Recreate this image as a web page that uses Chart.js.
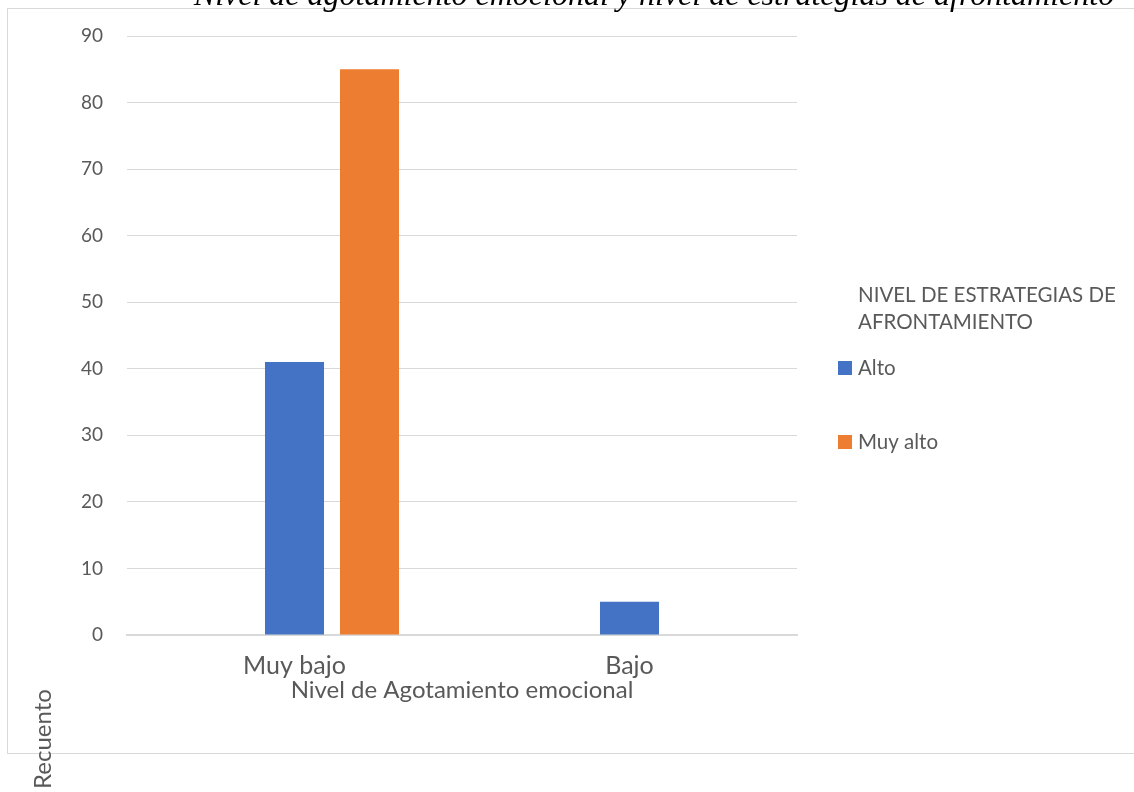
<!DOCTYPE html>
<html>
<head>
<meta charset="utf-8">
<script src="https://cdn.jsdelivr.net/npm/chart.js@4/dist/chart.umd.min.js"></script>
<style>
  html, body { margin: 0; padding: 0; background: #fff; }
  #wrap { width: 1134px; height: 792px; }
</style>
</head>
<body>
<div id="wrap"><canvas id="chart" width="1134" height="792"></canvas></div>
<script>
const categories = ["Muy bajo", "Bajo"];
const seriesNames = ["", "Alto", "Muy alto"];
const spacerCounts = [null, null];
const altoCounts = [41, 5];
const muyAltoCounts = [85, null];
const yTicks = [0, 10, 20, 30, 40, 50, 60, 70, 80, 90];

const chartTitle = "Nivel de agotamiento emocional y nivel de estrategias de afrontamiento";
const xTitle = "Nivel de Agotamiento emocional";
const yTitle = "Recuento";
const legendTitle = ["NIVEL DE ESTRATEGIAS DE", "AFRONTAMIENTO"];

const FONT = "Lato, 'Open Sans', sans-serif";
const GREY = "#595959";
const LINE = "#d9d9d9";

// frame, clipped heading, rotated count label and the legend block
const decor = {
    id: "decor",
    beforeDraw(chart) {
        const ctx = chart.ctx;
        ctx.save();
        ctx.strokeStyle = LINE;
        ctx.lineWidth = 1;
        ctx.strokeRect(7.5, 8.5, 1200, 745);
        ctx.restore();
    },
    afterDraw(chart) {
        const ctx = chart.ctx;
        ctx.save();

        ctx.fillStyle = "#000";
        ctx.font = "italic 32px 'Liberation Serif', 'Times New Roman', serif";
        ctx.textAlign = "center";
        ctx.textBaseline = "alphabetic";
        ctx.fillText(chartTitle, 654, 5);

        ctx.fillStyle = GREY;
        ctx.font = "24px " + FONT;
        ctx.translate(43, 739);
        ctx.rotate(-Math.PI / 2);
        ctx.textAlign = "center";
        ctx.textBaseline = "middle";
        ctx.fillText(yTitle, 0, 0);
        ctx.setTransform(1, 0, 0, 1, 0, 0);

        ctx.font = "20.5px " + FONT;
        ctx.textAlign = "left";
        ctx.textBaseline = "middle";
        legendTitle.forEach((t, i) => ctx.fillText(t, 858, 295 + i * 27));

        const items = chart.data.datasets.filter(d => d.label);
        items.forEach((d, i) => {
            const y = 368 + i * 74;
            ctx.fillStyle = d.backgroundColor;
            ctx.fillRect(838, y - 7, 14, 14);
            ctx.fillStyle = GREY;
            ctx.fillText(d.label, 858, y);
        });
        ctx.restore();
    }
};

new Chart(document.getElementById("chart"), {
    type: "bar",
    data: {
        labels: categories,
        datasets: [{
            label: seriesNames[0],
            data: spacerCounts,
            backgroundColor: "rgba(0,0,0,0)",
        }, {
            label: seriesNames[1],
            data: altoCounts,
            backgroundColor: "#4472C4",
        }, {
            label: seriesNames[2],
            data: muyAltoCounts,
            backgroundColor: "#ED7D31",
        }]
    },
    options: {
        responsive: false,
        animation: false,
        categoryPercentage: 0.6716,
        barPercentage: 0.787,
        layout: {
            padding: { top: 36, right: 337, bottom: 0, left: 0 }
        },
        plugins: {
            legend: { display: false },
            tooltip: { enabled: false }
        },
        scales: {
            x: {
                grid: { display: false, drawTicks: false },
                border: { color: LINE, width: 2 },
                ticks: {
                    color: GREY,
                    padding: 16,
                    font: { family: FONT, size: 25 }
                },
                title: {
                    display: true,
                    text: xTitle,
                    color: GREY,
                    padding: { top: 0, bottom: 87 },
                    font: { family: FONT, size: 24 }
                },
                afterFit: scale => { scale.height = 157; }
            },
            y: {
                min: 0,
                max: 90,
                afterBuildTicks: scale => {
                    scale.ticks = yTicks.map(v => ({ value: v }));
                },
                grid: { color: LINE, lineWidth: 1, drawTicks: false },
                border: { display: false },
                ticks: {
                    color: GREY,
                    padding: 24,
                    font: { family: FONT, size: 19 }
                },
                afterFit: scale => { scale.width = 127; }
            }
        }
    },
    plugins: [decor]
});
</script>
</body>
</html>
